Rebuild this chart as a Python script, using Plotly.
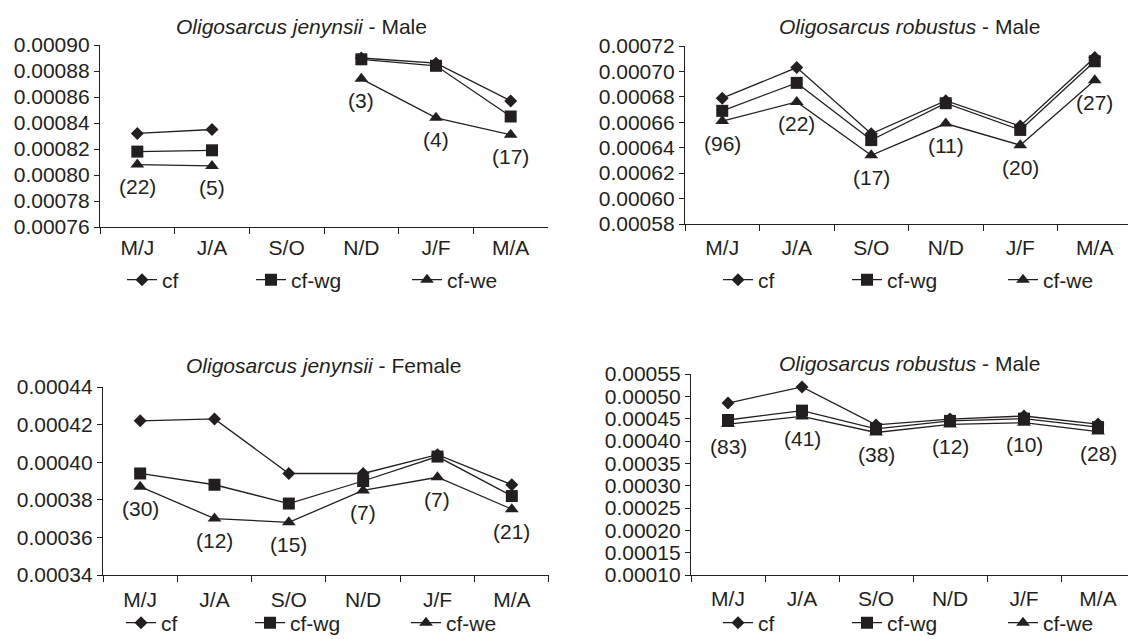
import plotly.graph_objects as go

W, H = 1128, 639
FONT = "Liberation Sans, Arial, sans-serif"
INK = "#231f20"
FS = 21

categories = ["M/J", "J/A", "S/O", "N/D", "J/F", "M/A"]
series_names = ["cf", "cf-wg", "cf-we"]

# Panel 1: Oligosarcus jenynsii - Male
p1_cf = [0.000832, 0.000835, None, 0.000890, 0.000886, 0.000857]
p1_wg = [0.000818, 0.000819, None, 0.000889, 0.000884, 0.000845]
p1_we = [0.000808, 0.000807, None, 0.000874, 0.000844, 0.000831]
p1_n = ["(22)", "(5)", "", "(3)", "(4)", "(17)"]

# Panel 2: Oligosarcus robustus - Male
p2_cf = [0.000679, 0.000703, 0.000651, 0.000677, 0.000657, 0.000711]
p2_wg = [0.000669, 0.000691, 0.000646, 0.000675, 0.000654, 0.000708]
p2_we = [0.000661, 0.000676, 0.000634, 0.000659, 0.000642, 0.000693]
p2_n = ["(96)", "(22)", "(17)", "(11)", "(20)", "(27)"]

# Panel 3: Oligosarcus jenynsii - Female
p3_cf = [0.000422, 0.000423, 0.000394, 0.000394, 0.000404, 0.000388]
p3_wg = [0.000394, 0.000388, 0.000378, 0.000390, 0.000403, 0.000382]
p3_we = [0.000387, 0.000370, 0.000368, 0.000385, 0.000392, 0.000375]
p3_n = ["(30)", "(12)", "(15)", "(7)", "(7)", "(21)"]

# Panel 4: Oligosarcus robustus - Male
p4_cf = [0.000485, 0.000521, 0.000436, 0.000449, 0.000456, 0.000438]
p4_wg = [0.000447, 0.000468, 0.000427, 0.000445, 0.000450, 0.000431]
p4_we = [0.000438, 0.000455, 0.000419, 0.000437, 0.000441, 0.000421]
p4_n = ["(83)", "(41)", "(38)", "(12)", "(10)", "(28)"]

titles = [
    "<i>Oligosarcus jenynsii</i> - Male",
    "<i>Oligosarcus robustus</i> - Male",
    "<i>Oligosarcus jenynsii</i> - Female",
    "<i>Oligosarcus robustus</i> - Male",
]
y_ranges = [(0.00076, 0.00090), (0.00058, 0.00072), (0.00034, 0.00044), (0.00010, 0.00055)]
y_dticks = [0.00002, 0.00002, 0.00002, 0.00005]

# layout geometry in pixels: (x0, x1, ytop, ybottom, px per category)
boxes = [(100, 548, 45, 227, 74.67), (685, 1128, 46, 224, 74.5),
         (103, 549, 387, 575, 74.33), (691, 1128, 374, 575, 74.0)]
title_pos = [(301, 26), (909, 26), (323, 365), (909, 363)]
legend_pos = [(142, 280), (738, 280), (141, 623), (738, 623)]
x_standoff = [2, 5, 6, 5]

panels = [
    (p1_cf, p1_wg, p1_we, p1_n),
    (p2_cf, p2_wg, p2_we, p2_n),
    (p3_cf, p3_wg, p3_we, p3_n),
    (p4_cf, p4_wg, p4_we, p4_n),
]
symbols = ["diamond", "square", "triangle-up"]
sizes = [10, 12, 12]
legend_widths = [84, 111, 60]

fig = go.Figure()
for i, (cf, wg, we, n) in enumerate(panels):
    k = "" if i == 0 else str(i + 1)
    lg = "legend" if i == 0 else "legend" + str(i + 1)
    for j, vals in enumerate([cf, wg, we]):
        fig.add_trace(go.Scatter(
            x=categories, y=vals, name=series_names[j], mode="lines+markers",
            xaxis="x" + k, yaxis="y" + k,
            line=dict(color=INK, width=1.3),
            marker=dict(symbol=symbols[j], size=sizes[j], color=INK),
            legend=lg, legendwidth=legend_widths[j],
        ))
    for c, v, t in zip(categories, we, n):
        if v is None or not t:
            continue
        fig.add_annotation(x=c, y=v, xref="x" + k, yref="y" + k, text=t,
                           showarrow=False, yshift=-22,
                           font=dict(size=FS, color=INK, family=FONT))

    x0, x1, yt, yb, cw = boxes[i]
    fig.layout["xaxis" + k] = dict(
        domain=[x0 / W, x1 / W], anchor="y" + k, type="category",
        categoryorder="array", categoryarray=categories,
        range=[-0.5, -0.5 + (x1 - x0) / cw],
        showline=True, linecolor=INK, linewidth=1.3, showgrid=False, zeroline=False,
        ticks="outside", tickson="boundaries", ticklen=6, tickcolor=INK, tickwidth=1.3,
        ticklabelstandoff=x_standoff[i],
        tickfont=dict(size=FS, color=INK, family=FONT), fixedrange=True,
    )
    fig.layout["yaxis" + k] = dict(
        domain=[(H - yb) / H, (H - yt) / H], anchor="x" + k,
        range=list(y_ranges[i]), dtick=y_dticks[i], tick0=y_ranges[i][0], tickformat=".5f",
        showline=True, linecolor=INK, linewidth=1.3, showgrid=False, zeroline=False,
        ticks="outside", ticklen=5, tickcolor=INK, tickwidth=1.3,
        tickfont=dict(size=FS, color=INK, family=FONT), fixedrange=True,
    )
    tx, ty = title_pos[i]
    fig.add_annotation(x=tx / W, y=(H - ty) / H, xref="paper", yref="paper",
                       text=titles[i], showarrow=False, xanchor="center", yanchor="middle",
                       font=dict(size=FS, color=INK, family=FONT))
    lx, ly = legend_pos[i]
    # legend left edge so that the first marker lands at lx
    fig.layout[lg] = dict(
        orientation="h", x=(lx - 20) / W, y=(H - ly) / H, xanchor="left", yanchor="middle",
        xref="paper", yref="paper", bgcolor="rgba(0,0,0,0)", borderwidth=0,
        font=dict(size=FS, color=INK, family=FONT), entrywidthmode="pixels",
        itemclick=False, itemdoubleclick=False,
    )

fig.update_layout(
    width=W, height=H, margin=dict(l=0, r=0, t=0, b=0, pad=0, autoexpand=False),
    paper_bgcolor="white", plot_bgcolor="white", showlegend=True,
    font=dict(family=FONT, color=INK, size=FS),
)
fig.write_html("out.html", config={"displayModeBar": False},
               post_script="document.body.style.margin='0';")
